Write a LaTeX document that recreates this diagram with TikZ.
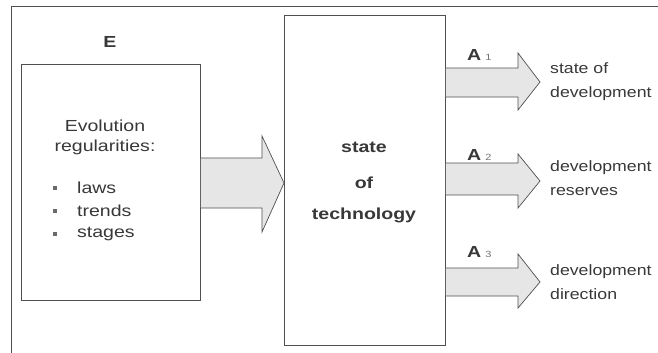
\documentclass[tikz,border=0pt]{standalone}
\usepackage{fontspec}
\setmainfont{Liberation Sans}[FakeStretch=1.22]
\newfontfamily\narrowsans{Liberation Sans}[FakeStretch=1.18]
\definecolor{ln}{HTML}{505050}
\definecolor{fl}{HTML}{E6E6E6}
\definecolor{tx}{HTML}{383838}
\tikzset{
  box/.style={draw=ln, line width=0.8pt, fill=white, inner sep=0pt},
  lbl/.style={text=tx, font=\fontsize{16}{19}\selectfont, inner sep=0pt},
  blbl/.style={lbl, font=\fontsize{16}{19}\selectfont\bfseries},
  rlbl/.style={lbl, anchor=west, align=left, font=\narrowsans\fontsize{15}{24}\selectfont},
  arrfill/.style={fill=fl, draw=none},
  arredge/.style={draw=ln, line width=0.7pt, line join=miter},
  dot/.style={rectangle, fill=ln!85, inner sep=0pt, minimum size=4.5pt}
}
\newcommand\alab[1]{A\hspace{4pt}\raisebox{-0.1ex}{\fontsize{9}{9}\selectfont\mdseries\color{ln!80}#1}}
\begin{document}
\begin{tikzpicture}[x=1pt,y=-1pt]
\useasboundingbox (0,0) rectangle (658,353);
\clip (0,0) rectangle (658,353);
% outer frame (runs off right and bottom)
\draw[ln, line width=0.8pt] (11,400) -- (11,6) -- (700,6);
% E box
\node[box, minimum width=179pt, minimum height=236pt, anchor=north west] (ebox) at (21,64) {};
\node[blbl] (elab) at (110,42) {E};
\node[lbl] (evo) at (105,126) {Evolution};
\node[lbl] (reg) at (105,147) {regularities:};
\node[dot] (b1) at (55,188) {};
\node[dot] (b2) at (55,211) {};
\node[dot] (b3) at (55,234) {};
\node[lbl, anchor=west] (t1) at (77,188) {laws};
\node[lbl, anchor=west] (t2) at (77,211) {trends};
\node[lbl, anchor=west] (t3) at (77,234) {stages};
% centre box
\node[box, minimum width=161pt, minimum height=330pt, anchor=north west] (cbox) at (284,15) {};
\node[blbl] (s1) at (364,147) {state};
\node[blbl] (s2) at (364,183) {of};
\node[blbl] (s3) at (364,215) {technology};
% big arrow E -> centre
\coordinate (ma) at (ebox.east |- 0,158);
\coordinate (mb) at (ebox.east |- 0,208);
\fill[fl] (ma) -- (262,158) -- (262,136) -- (cbox.west |- 0,183) -- (262,232) -- (262,208) -- (mb) -- cycle;
\draw[arredge] (ma) -- (262,158) -- (262,136) -- (cbox.west |- 0,183) -- (262,232) -- (262,208) -- (mb);
% right arrows
\foreach \i/\yt/\yb/\ht/\hb/\yc in {1/68/97/53/110/82, 2/163/195/154/208/181, 3/268/296/254/308/282}{
  \coordinate (ra\i) at (cbox.east |- 0,\yt);
  \coordinate (rb\i) at (cbox.east |- 0,\yb);
  \coordinate (tip\i) at (540,\yc);
  \fill[fl] (ra\i) -- (518,\yt) -- (518,\ht) -- (tip\i) -- (518,\hb) -- (518,\yb) -- (rb\i) -- cycle;
  \draw[arredge] (ra\i) -- (518,\yt) -- (518,\ht) -- (tip\i) -- (518,\hb) -- (518,\yb) -- (rb\i);
}
\node[blbl, anchor=west] (a1) at (467,55) {\alab{1}};
\node[blbl, anchor=west] (a2) at (467,155) {\alab{2}};
\node[blbl, anchor=west] (a3) at (467,252) {\alab{3}};
\node[rlbl] (r1) at (550,82) {state of\\development};
\node[rlbl] (r2) at (550,178) {development\\reserves};
\node[rlbl] (r3) at (550,282) {development\\direction};
\end{tikzpicture}
\end{document}
